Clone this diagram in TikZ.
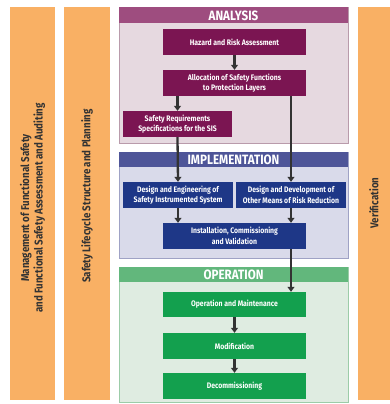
\documentclass[tikz,border=0pt]{standalone}
\usepackage{fontspec}
\setmainfont{Fira Sans}[FakeStretch=0.86]
\usetikzlibrary{arrows.meta}
\definecolor{orng}{HTML}{F9B064}
\definecolor{anhead}{HTML}{9E4D7F}
\definecolor{anfill}{HTML}{E6D9E0}
\definecolor{anbord}{HTML}{B99BAB}
\definecolor{anbox}{HTML}{7B1552}
\definecolor{imhead}{HTML}{4E5598}
\definecolor{imfill}{HTML}{D9DAEA}
\definecolor{imbord}{HTML}{9FA2C5}
\definecolor{imbox}{HTML}{1E3787}
\definecolor{ophead}{HTML}{62B77C}
\definecolor{opfill}{HTML}{DFECE1}
\definecolor{opbord}{HTML}{9CCCA8}
\definecolor{opbox}{HTML}{13A04E}
\definecolor{arr}{HTML}{333333}
\tikzset{
  bar/.style={fill=orng, draw=none},
  barlabel/.style={rotate=90, text=arr, font=\bfseries\fontsize{11.3}{13.5}\selectfont, align=center},
  stagebox/.style={minimum width=143pt, minimum height=26pt, inner sep=1pt, align=center, text=white, font=\bfseries\fontsize{8}{10.5}\selectfont},
  smallbox/.style={stagebox, minimum width=110pt},
  headtext/.style={text=white, font=\bfseries\fontsize{13.5}{14}\selectfont, inner sep=0pt},
  flow/.style={draw=arr, line width=2.3pt, -{Triangle[length=5pt,width=7pt]}},
  plainline/.style={draw=arr, line width=2.3pt}
}
\begin{document}
\begin{tikzpicture}[x=1pt,y=-1pt]
\useasboundingbox (0,0) rectangle (390,404);
\fill[white] (0,0) rectangle (390,404);
% orange bars
\fill[bar] (10,7) rectangle (55,400);
\fill[bar] (64,7) rectangle (110,400);
\fill[bar] (358,7) rectangle (390,400);
\node[barlabel] (mgmt) at (32.5,208) {Management of Functional Safety\\and Functional Safety Assessment and Auditing};
\node[barlabel] (plan) at (87,196) {Safety Lifecycle Structure and Planning};
\node[barlabel] (verif) at (374,203) {Verification};
% panels
\filldraw[fill=anfill, draw=anbord, line width=0.8pt] (119,7) rectangle (348,143);
\fill[anhead] (119,7) rectangle (348,23);
\node[headtext] (anh) at (233.5,15.5) {ANALYSIS};
\filldraw[fill=imfill, draw=imbord, line width=0.8pt] (119,152) rectangle (348,258);
\fill[imhead] (119,152) rectangle (348,167);
\node[headtext] (imh) at (233.5,160) {IMPLEMENTATION};
\filldraw[fill=opfill, draw=opbord, line width=0.8pt] (119,267) rectangle (348,402);
\fill[ophead] (119,267) rectangle (348,282);
\node[headtext] (oph) at (233.5,275) {OPERATION};
% boxes
\node[stagebox, fill=anbox] (haz) at (234.5,42) {Hazard and Risk Assessment};
\node[stagebox, fill=anbox] (alloc) at (234.5,83) {Allocation of Safety Functions\\to Protection Layers};
\node[smallbox, fill=anbox, minimum width=109pt] (srs) at (177.5,124) {Safety Requirements\\Specifications for the SIS};
\node[smallbox, fill=imbox] (sis) at (178,195) {Design and Engineering of\\Safety Instrumented System};
\node[smallbox, fill=imbox] (other) at (291,195) {Design and Development of\\Other Means of Risk Reduction};
\node[stagebox, fill=imbox] (inst) at (234.5,236) {Installation, Commissioning\\and Validation};
\node[stagebox, fill=opbox, minimum height=25pt] (opm) at (234.5,304.5) {Operation and Maintenance};
\node[stagebox, fill=opbox] (mod) at (234.5,346) {Modification};
\node[stagebox, fill=opbox] (dec) at (234.5,386) {Decommissioning};
% connectors
\draw[flow] (haz) -- (alloc);
\draw[flow] (alloc.south -| srs.north) -- (srs.north);
\draw[flow] (alloc.south -| other.north) -- (other.north);
\draw[flow] (srs.south) -- (sis.north);
\draw[flow] (sis.south) -- (inst.north -| sis.south);
\draw[flow] (other.south) -- (inst.north -| other.south);
\draw[flow] (inst.south -| other.south) -- (opm.north -| other.south);
\draw[flow] (opm) -- (mod);
\draw[flow] (mod) -- (dec);
\end{tikzpicture}
\end{document}
